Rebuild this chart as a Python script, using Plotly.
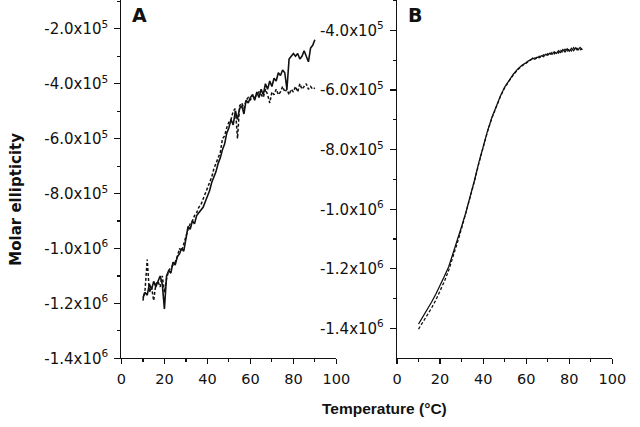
import plotly.graph_objects as go

# ---------------- data (molar ellipticity in units of 1e5) ----------------
temp_a = list(range(10, 91))
a_solid_1e5 = [
    -11.8, -11.6, -11.7, -11.3, -11.5, -11.2, -11.4, -11.2, -11.0, -11.3,
    -12.2, -11.0, -10.8, -10.9, -10.5, -10.6, -10.3, -10.2, -10.0, -10.1,
    -9.7, -9.2, -9.3, -9.0, -9.1, -8.8, -8.7, -8.6, -8.5, -8.3,
    -8.1, -7.9, -7.6, -7.4, -7.2, -6.9, -6.7, -6.4, -6.2, -5.8,
    -5.6, -5.3, -5.5, -5.0, -5.3, -4.9, -4.8, -5.1, -4.6, -4.7,
    -4.5, -4.4, -4.6, -4.3, -4.5, -4.2, -4.4, -4.0, -4.2, -3.9,
    -4.1, -3.8, -3.9, -3.6, -3.7, -3.5, -3.6, -4.2, -3.1, -3.0,
    -2.9, -3.0, -2.9, -3.1, -3.0, -2.8, -3.0, -3.2, -2.7, -2.6, -2.4,
]
a_dashed_1e5 = [
    -11.9, -11.5, -10.4, -11.6, -11.4, -11.9, -11.3, -11.2, -11.4, -11.0,
    -11.6, -11.1, -10.8, -10.7, -10.6, -10.5, -10.3, -10.0, -10.1, -9.8,
    -9.6, -9.3, -9.1, -9.0, -8.8, -8.7, -8.5, -8.4, -8.2, -8.0,
    -7.8, -7.6, -7.4, -7.1, -6.9, -6.7, -6.5, -6.0, -5.9, -5.6,
    -5.4, -5.3, -5.0, -4.9, -6.0, -4.8, -4.7, -4.9, -4.6, -4.5,
    -4.6, -4.4, -4.5, -4.4, -4.3, -4.4, -4.5, -4.2, -4.4, -4.7,
    -4.3, -4.4, -4.2, -4.4, -4.3, -4.1, -4.3, -4.2, -4.4, -4.2,
    -4.3, -4.1, -4.3, -4.0, -4.2, -4.1, -4.0, -4.2, -4.1, -4.2, -4.15,
]

temp_b = list(range(10, 60, 2)) + list(range(60, 87))
b_solid_1e5 = [
    -13.85, -13.62, -13.38, -13.12, -12.85, -12.57, -12.25, -11.93, -11.5, -11.05,
    -10.58, -10.1, -9.6, -9.02, -8.43, -7.88, -7.38, -6.93, -6.53, -6.2,
    -5.9, -5.68, -5.47, -5.3, -5.17,
    -5.08, -5.02, -5.0, -4.93, -4.97, -4.9, -4.92, -4.85, -4.88, -4.8,
    -4.83, -4.76, -4.8, -4.72, -4.77, -4.68, -4.74, -4.64, -4.72, -4.62,
    -4.7, -4.6, -4.68, -4.58, -4.66, -4.57, -4.65,
]
b_dashed_1e5 = [
    -14.02, -13.8, -13.58, -13.32, -13.05, -12.75, -12.42, -12.05, -11.62, -11.13,
    -10.64, -10.14, -9.63, -9.05, -8.46, -7.9, -7.4, -6.95, -6.55, -6.22,
    -5.92, -5.7, -5.49, -5.32, -5.19,
    -5.1, -5.04, -4.98, -4.96, -4.92, -4.94, -4.87, -4.9, -4.82, -4.86,
    -4.78, -4.82, -4.74, -4.79, -4.7, -4.76, -4.67, -4.73, -4.63, -4.71,
    -4.6, -4.69, -4.58, -4.67, -4.6, -4.65, -4.62,
]

a_tick_vals = [-1.4e6, -1.2e6, -1.0e6, -8e5, -6e5, -4e5, -2e5]
a_tick_text = ["-1.4x10<sup>6</sup>", "-1.2x10<sup>6</sup>", "-1.0x10<sup>6</sup>",
               "-8.0x10<sup>5</sup>", "-6.0x10<sup>5</sup>", "-4.0x10<sup>5</sup>",
               "-2.0x10<sup>5</sup>"]
b_tick_vals = [-1.4e6, -1.2e6, -1.0e6, -8e5, -6e5, -4e5]
b_tick_text = ["-1.4x10<sup>6</sup>", "-1.2x10<sup>6</sup>", "-1.0x10<sup>6</sup>",
               "-8.0x10<sup>5</sup>", "-6.0x10<sup>5</sup>", "-4.0x10<sup>5</sup>"]
a_minor_vals = [-1.3e6, -1.1e6, -9e5, -7e5, -5e5, -3e5, -1e5]
b_minor_vals = [-1.3e6, -1.1e6, -9e5, -7e5, -5e5, -3e5]

scale = 1e5
INK = "#111111"
TICKFONT = "DejaVu Sans, sans-serif"
ARIAL = "Liberation Sans, Arial, sans-serif"

W, H = 640, 427


def px(x):
    return x / W


def py(y):
    return 1 - y / H


fig = go.Figure()
fig.add_trace(go.Scatter(x=temp_a, y=[v * scale for v in a_dashed_1e5], mode="lines",
                         line=dict(color=INK, width=1.5, dash="3px,2px"),
                         xaxis="x", yaxis="y", hoverinfo="skip"))
fig.add_trace(go.Scatter(x=temp_a, y=[v * scale for v in a_solid_1e5], mode="lines",
                         line=dict(color=INK, width=1.6),
                         xaxis="x", yaxis="y", hoverinfo="skip"))
fig.add_trace(go.Scatter(x=temp_b, y=[v * scale for v in b_dashed_1e5], mode="lines",
                         line=dict(color=INK, width=1.3, dash="3px,2px"),
                         xaxis="x2", yaxis="y2", hoverinfo="skip"))
fig.add_trace(go.Scatter(x=temp_b, y=[v * scale for v in b_solid_1e5], mode="lines",
                         line=dict(color=INK, width=1.3),
                         xaxis="x2", yaxis="y2", hoverinfo="skip"))

ydom = [py(366), 1.0]


def xaxis(domain, anchor):
    return dict(domain=domain, anchor=anchor, range=[0, 100], tickmode="linear",
                tick0=0, dtick=20, ticks="outside", ticklen=5, tickwidth=1.2,
                tickcolor=INK, showline=True, linecolor=INK, linewidth=1.2,
                showgrid=False, zeroline=False, ticklabelstandoff=2,
                tickfont=dict(family=TICKFONT, size=14.5, color=INK),
                minor=dict(tickmode="linear", tick0=10, dtick=20, ticks="outside",
                           ticklen=3, tickwidth=1.2, tickcolor=INK, showgrid=False))


def yaxis(anchor, rng, tv, tt, mv):
    return dict(domain=ydom, anchor=anchor, range=rng, tickmode="array",
                tickvals=tv, ticktext=tt, ticks="outside", ticklen=6, tickwidth=1.2,
                tickcolor=INK, showline=True, linecolor=INK, linewidth=1.2,
                showgrid=False, zeroline=False, ticklabelstandoff=3,
                tickfont=dict(family=TICKFONT, size=15, color=INK),
                minor=dict(tickmode="array", tickvals=mv, ticks="outside",
                           ticklen=3, tickwidth=1.2, tickcolor=INK, showgrid=False))


fig.update_layout(
    width=W, height=H,
    margin=dict(l=0, r=0, t=0, b=0),
    paper_bgcolor="white", plot_bgcolor="white",
    showlegend=False, hovermode=False, dragmode=False,
    xaxis=xaxis([px(120), px(341.5)], "y"),
    yaxis=yaxis("x", [-1.4e6, -0.95e5], a_tick_vals, a_tick_text, a_minor_vals),
    xaxis2=xaxis([px(404), px(626)], "y2"),
    yaxis2=yaxis("x2", [-1.5e6, -2.98e5], b_tick_vals, b_tick_text, b_minor_vals),
    annotations=[
        dict(text="<b>A</b>", x=px(129), y=py(2), xref="paper", yref="paper",
             xanchor="left", yanchor="top", showarrow=False,
             font=dict(family=TICKFONT, size=19, color=INK)),
        dict(text="<b>B</b>", x=px(413), y=py(2), xref="paper", yref="paper",
             xanchor="left", yanchor="top", showarrow=False,
             font=dict(family=TICKFONT, size=19, color=INK)),
        dict(text="<b>Molar ellipticity</b>", x=px(0), y=py(204),
             xref="paper", yref="paper", xanchor="left", yanchor="middle",
             textangle=-90, showarrow=False,
             font=dict(family=TICKFONT, size=15, color=INK)),
        dict(text="<b>Temperature (°C)</b>", x=px(391.5), y=py(417),
             xref="paper", yref="paper", xanchor="center", yanchor="middle",
             showarrow=False, font=dict(family=ARIAL, size=15.5, color=INK)),
    ],
)

fig.write_html(
    "out.html",
    config={"displayModeBar": False, "staticPlot": True},
    post_script="document.body.style.margin='0px';document.body.style.overflow='hidden';",
)
